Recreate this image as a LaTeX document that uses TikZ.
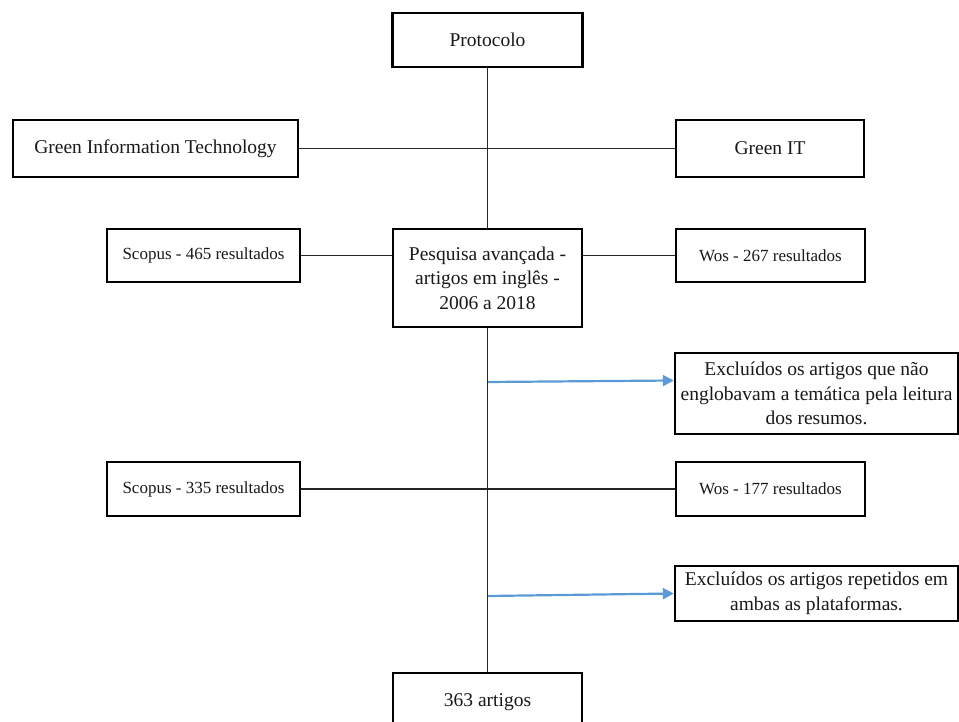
\documentclass[tikz,border=0pt]{standalone}
\usepackage{fontspec}
\setmainfont{Liberation Serif}
\usetikzlibrary{arrows.meta}
\definecolor{arrowblue}{RGB}{91,155,213}
\begin{document}
\begin{tikzpicture}[x=1pt,y=-1pt,
  box/.style={draw=black, line width=2.4pt, fill=white, inner sep=0pt, align=center,
    font=\fontsize{19.5}{24.5}\selectfont, text=black!90},
  sbox/.style={box, font=\fontsize{17}{20}\selectfont},
  link/.style={line width=1.1pt, draw=black!85},
  bluearrow/.style={line width=2.2pt, draw=arrowblue, -{Triangle[length=11pt,width=11pt]}}]
\useasboundingbox (0,0) rectangle (959,722);
\clip (0,0) rectangle (959,722);
\node[box, minimum width=190pt, minimum height=54pt] (proto) at (487.5,40) {Protocolo};
\node[box, minimum width=285pt, minimum height=57pt] (git) at (155.5,148.5) {Green Information Technology};
\node[box, minimum width=188pt, minimum height=57pt] (gitshort) at (770,148.5) {Green IT};
\node[sbox, minimum width=193pt, minimum height=53pt] (sc1) at (203.5,255.5) {Scopus - 465 resultados};
\node[box, minimum width=189pt, minimum height=98pt] (pesq) at (487.5,278) {Pesquisa avançada -\\artigos em inglês -\\2006 a 2018};
\node[sbox, minimum width=189pt, minimum height=53pt] (wos1) at (770.5,255.5) {Wos - 267 resultados};
\node[box, minimum width=283pt, minimum height=81pt] (ex1) at (816.5,393.5) {Excluídos os artigos que não\\englobavam a temática pela leitura\\dos resumos.};
\node[sbox, minimum width=193pt, minimum height=54pt] (sc2) at (203.5,489) {Scopus - 335 resultados};
\node[sbox, minimum width=189pt, minimum height=54pt] (wos2) at (770.5,489) {Wos - 177 resultados};
\node[box, minimum width=283pt, minimum height=55pt] (ex2) at (816.5,593.5) {Excluídos os artigos repetidos em\\ambas as plataformas.};
\node[box, minimum width=189pt, minimum height=58pt] (fin) at (487.5,702) {363 artigos};
\draw[link] (proto.south) -- (pesq.north);
\draw[link] (pesq.south) -- (fin.north);
\draw[link] (git.east) -- (gitshort.west);
\draw[link] (sc1.east) -- (pesq.west |- sc1.east);
\draw[link] (pesq.east |- wos1.west) -- (wos1.west);
\draw[link] (sc2.east) -- (wos2.west);
\coordinate (a1) at (488,382);
\coordinate (a2) at (488,596);
\draw[bluearrow] (a1) -- ([yshift=13pt]ex1.west);
\draw[bluearrow] (a2) -- (ex2.west);
\end{tikzpicture}
\end{document}
